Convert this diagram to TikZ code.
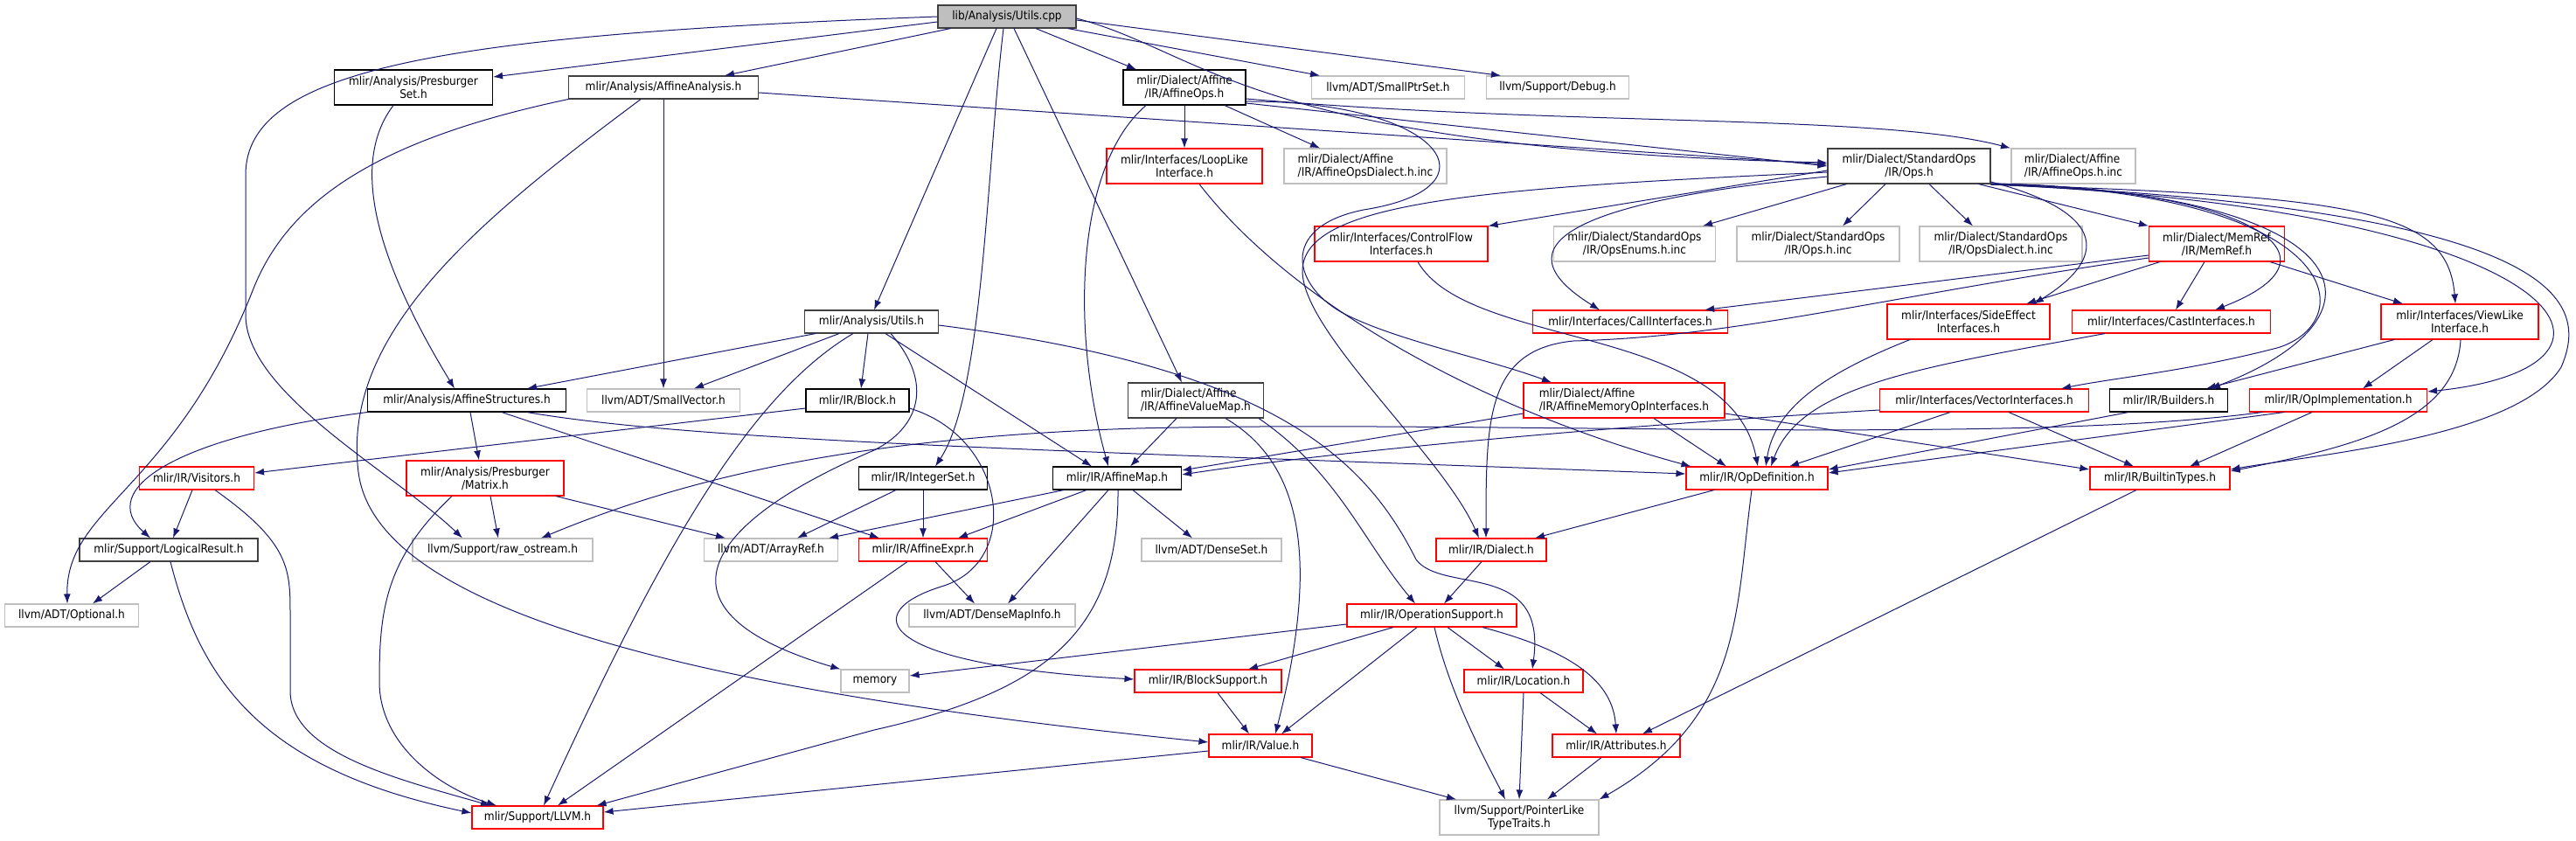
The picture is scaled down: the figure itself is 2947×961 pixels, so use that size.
\documentclass[tikz,border=0pt]{standalone}
\usepackage{fontspec}
\setmainfont{DejaVu Sans Condensed}
\usepackage{xcolor}
\usepackage{tikz}
\usetikzlibrary{arrows.meta}

\definecolor{edgeblue}{HTML}{191970}
\definecolor{nodegray}{HTML}{BFBFBF}
\definecolor{nodedark}{HTML}{404040}

\begin{document}
\begin{tikzpicture}[x=1pt, y=-1pt,
	box/.style={draw, rectangle, line width=1.1pt, fill=white, inner sep=2pt, minimum height=26pt, align=center, font=\fontsize{13.5}{15}\selectfont},
	twoline/.style={minimum height=40pt},
	rootbox/.style={box, draw=nodedark, fill=nodegray},
	blackbox/.style={box, draw=black},
	darkbox/.style={box, draw=nodedark},
	redbox/.style={box, draw=red},
	graybox/.style={box, draw=nodegray},
	dep/.style={draw=edgeblue, line width=1pt, -{Latex[length=11pt, width=8pt]}}]
	\useasboundingbox (0,0) rectangle (2947,961);
	% Nodes, rank by rank:
	\node[rootbox, minimum width=158] (cpp) at (1152,19) {lib/Analysis/Utils.cpp};
	\node[blackbox, twoline, minimum width=181] (pset) at (473,100) {mlir/Analysis/Presburger\\Set.h};
	\node[darkbox, minimum width=217] (aana) at (759,100) {mlir/Analysis/AffineAnalysis.h};
	\node[blackbox, twoline, minimum width=140] (aops) at (1355,100) {mlir/Dialect/Affine\\/IR/AffineOps.h};
	\node[graybox, minimum width=175] (sptr) at (1588,100) {llvm/ADT/SmallPtrSet.h};
	\node[graybox, minimum width=163] (dbg) at (1782,100) {llvm/Support/Debug.h};
	\node[redbox, twoline, minimum width=178] (loop) at (1355,190) {mlir/Interfaces/LoopLike\\Interface.h};
	\node[graybox, twoline, minimum width=186, align=left] (aopsdi) at (1562,190) {mlir/Dialect/Affine\\/IR/AffineOpsDialect.h.inc};
	\node[darkbox, twoline, minimum width=186] (stdops) at (2184,190) {mlir/Dialect/StandardOps\\/IR/Ops.h};
	\node[graybox, twoline, minimum width=142, align=left] (aopsinc) at (2372,190) {mlir/Dialect/Affine\\/IR/AffineOps.h.inc};
	\node[redbox, twoline, minimum width=198] (cflow) at (1603,279) {mlir/Interfaces/ControlFlow\\Interfaces.h};
	\node[graybox, twoline, minimum width=185] (enums) at (1870,279) {mlir/Dialect/StandardOps\\/IR/OpsEnums.h.inc};
	\node[graybox, twoline, minimum width=186] (opsinc) at (2080,279) {mlir/Dialect/StandardOps\\/IR/Ops.h.inc};
	\node[graybox, twoline, minimum width=186] (opsdi) at (2289,279) {mlir/Dialect/StandardOps\\/IR/OpsDialect.h.inc};
	\node[redbox, twoline, minimum width=155] (memref) at (2536,279) {mlir/Dialect/MemRef\\/IR/MemRef.h};
	\node[darkbox, minimum width=153] (autils) at (997,368) {mlir/Analysis/Utils.h};
	\node[redbox, minimum width=223] (call) at (1865,368) {mlir/Interfaces/CallInterfaces.h};
	\node[redbox, twoline, minimum width=186] (side) at (2252,368) {mlir/Interfaces/SideEffect\\Interfaces.h};
	\node[redbox, minimum width=227] (cast) at (2484,368) {mlir/Interfaces/CastInterfaces.h};
	\node[redbox, twoline, minimum width=180] (view) at (2814,368) {mlir/Interfaces/ViewLike\\Interface.h};
	\node[blackbox, minimum width=227] (astruct) at (534,458) {mlir/Analysis/AffineStructures.h};
	\node[graybox, minimum width=175] (svec) at (759,458) {llvm/ADT/SmallVector.h};
	\node[blackbox, minimum width=118] (block) at (981,458) {mlir/IR/Block.h};
	\node[darkbox, twoline, minimum width=155, align=left] (avmap) at (1368,458) {mlir/Dialect/Affine\\/IR/AffineValueMap.h};
	\node[redbox, twoline, minimum width=230, align=left] (amem) at (1858,458) {mlir/Dialect/Affine\\/IR/AffineMemoryOpInterfaces.h};
	\node[redbox, minimum width=239] (vec) at (2270,458) {mlir/Interfaces/VectorInterfaces.h};
	\node[blackbox, minimum width=135] (build) at (2481,458) {mlir/IR/Builders.h};
	\node[redbox, minimum width=203] (opimpl) at (2675,458) {mlir/IR/OpImplementation.h};
	\node[redbox, minimum width=131] (visit) at (225,547) {mlir/IR/Visitors.h};
	\node[redbox, twoline, minimum width=180] (matrix) at (555,547) {mlir/Analysis/Presburger\\/Matrix.h};
	\node[blackbox, minimum width=147] (iset) at (1056,547) {mlir/IR/IntegerSet.h};
	\node[blackbox, minimum width=147] (amap) at (1278,547) {mlir/IR/AffineMap.h};
	\node[redbox, minimum width=162] (opdef) at (2010,547) {mlir/IR/OpDefinition.h};
	\node[redbox, minimum width=160] (btypes) at (2471,547) {mlir/IR/BuiltinTypes.h};
	\node[darkbox, minimum width=204] (lres) at (193,629) {mlir/Support/LogicalResult.h};
	\node[graybox, minimum width=206] (rawos) at (575,629) {llvm/Support/raw\_ostream.h};
	\node[graybox, minimum width=153] (aref) at (882,629) {llvm/ADT/ArrayRef.h};
	\node[redbox, minimum width=147] (aexpr) at (1056,629) {mlir/IR/AffineExpr.h};
	\node[graybox, minimum width=160] (dset) at (1386,629) {llvm/ADT/DenseSet.h};
	\node[redbox, minimum width=126] (dialect) at (1706,629) {mlir/IR/Dialect.h};
	\node[graybox, minimum width=153] (optional) at (82,704) {llvm/ADT/Optional.h};
	\node[graybox, minimum width=190] (dmi) at (1135,704) {llvm/ADT/DenseMapInfo.h};
	\node[redbox, minimum width=194] (opsup) at (1638,704) {mlir/IR/OperationSupport.h};
	\node[graybox, minimum width=78] (memory) at (1001,779) {memory};
	\node[redbox, minimum width=168] (bsup) at (1382,779) {mlir/IR/BlockSupport.h};
	\node[redbox, minimum width=136] (loc) at (1743,779) {mlir/IR/Location.h};
	\node[redbox, minimum width=118] (value) at (1442,853) {mlir/IR/Value.h};
	\node[redbox, minimum width=146] (attr) at (1849,853) {mlir/IR/Attributes.h};
	\node[redbox, minimum width=150] (llvm) at (615,935) {mlir/Support/LLVM.h};
	\node[graybox, twoline, minimum width=182] (ptr) at (1738,935) {llvm/Support/PointerLike\\TypeTraits.h};
	% Includes of lib/Analysis/Utils.cpp
	\draw[dep] ([yshift=-6]cpp.west) -- ([yshift=12]pset.east);
	\draw[dep] ([xshift=15]cpp.south west) -- ([xshift=70]aana.north);
	\draw[dep] ([xshift=33]cpp.south) -- ([xshift=-55]aops.north);
	\draw[dep] ([xshift=-10]cpp.south east) -- ([xshift=-78]sptr.north);
	\draw[dep] ([yshift=-4]cpp.east) -- ([xshift=-65]dbg.north);
	\draw[dep] ([xshift=-12]cpp.south) -- ([xshift=3]autils.north);
	\draw[dep] ([xshift=-4]cpp.south) .. controls (1128,200) and (1125,450) .. ([xshift=14]iset.north);
	\draw[dep] ([xshift=8]cpp.south) -- ([xshift=-16]avmap.north);
	\draw[dep] ([yshift=-2]cpp.east) .. controls (1380,60) and (1430,170) .. ([yshift=4]stdops.west);
	\draw[dep] (cpp.west) .. controls (500,40) and (281,80) .. (281,200) -- (281,360) .. controls (281,450) and (450,540) .. ([xshift=-46]rawos.north);
	% Presburger set, affine analysis
	\draw[dep] ([xshift=-23]pset.south) .. controls (405,180) and (420,280) .. ([xshift=-14]astruct.north);
	\draw[dep] (aana.south) -- (svec.north);
	\draw[dep] (aana.south west) .. controls (430,160) and (330,230) .. (290,330) .. controls (200,560) and (75,580) .. ([xshift=-5]optional.north);
	\draw[dep] ([xshift=-26]aana.south) .. controls (550,250) and (390,380) .. (410,540) .. controls (430,700) and (800,790) .. ([yshift=4]value.west);
	\draw[dep] ([yshift=-6]aana.east) -- ([yshift=2]stdops.west);
	% Affine ops
	\draw[dep] (aops.south) -- (loop.north);
	\draw[dep] ([xshift=46]aops.south) -- ([xshift=-52]aopsdi.north);
	\draw[dep] ([yshift=-18]aops.east) -- (stdops.west);
	\draw[dep] ([yshift=-13]aops.east) .. controls (1800,145) and (2150,130) .. ([xshift=-72]aopsinc.north);
	\draw[dep] ([xshift=-44]aops.south) .. controls (1230,190) and (1225,380) .. ([xshift=-10]amap.north);
	\draw[dep] ([yshift=-16]aops.east) .. controls (1650,115) and (1720,215) .. (1560,240) .. controls (1460,260) and (1480,330) .. (1540,360) .. controls (1600,390) and (1700,410) .. ([xshift=-83]amem.north);
	\draw[dep] ([xshift=17]loop.south) .. controls (1480,350) and (1700,470) .. ([xshift=6]opdef.north west);
	\draw[dep] ([xshift=19]cflow.south) .. controls (1680,400) and (1980,370) .. ([xshift=1]opdef.north);
	% Standard ops
	\draw[dep] ([yshift=-5]stdops.west) -- (cflow.north east);
	\draw[dep] ([xshift=22]stdops.south west) -- ([xshift=78]enums.north);
	\draw[dep] ([xshift=-27]stdops.south) -- ([xshift=28]opsinc.north);
	\draw[dep] ([xshift=23]stdops.south) -- ([xshift=-32]opsdi.north);
	\draw[dep] ([xshift=-14]stdops.south east) -- (memref.north west);
	\draw[dep] ([yshift=-18]stdops.east) .. controls (2400,240) and (2420,290) .. ([xshift=75]side.north);
	\draw[dep] ([yshift=-20]stdops.east) .. controls (2560,215) and (2700,290) .. ([xshift=50]cast.north);
	\draw[dep] ([yshift=-20]stdops.east) .. controls (2690,220) and (2700,370) .. (2605,398) .. controls (2500,425) and (2420,432) .. ([xshift=88]vec.north);
	\draw[dep] ([yshift=-20]stdops.east) .. controls (2700,220) and (2750,360) .. ([xshift=48]build.north);
	\draw[dep] ([yshift=-21]stdops.east) .. controls (2700,225) and (2800,240) .. ([xshift=-5]view.north);
	\draw[dep] ([yshift=-21]stdops.east) .. controls (2950,240) and (3050,420) .. ([yshift=10]opimpl.east);
	\draw[dep] ([yshift=-21]stdops.east) .. controls (2950,240) and (2960,350) .. (2930,420) .. controls (2880,500) and (2650,520) .. ([yshift=10]btypes.east);
	\draw[dep] ([yshift=-12]stdops.west) .. controls (1800,230) and (1710,280) .. ([xshift=-35]call.north);
	\draw[dep] ([yshift=-7]stdops.west) .. controls (1700,215) and (1490,230) .. (1490,310) .. controls (1490,380) and (1650,520) .. ([xshift=-14]dialect.north);
	% MemRef
	\draw[dep] ([xshift=-65]memref.south) -- ([xshift=66]side.north);
	\draw[dep] ([xshift=-14]memref.south) -- ([xshift=5]cast.north);
	\draw[dep] ([xshift=61]memref.south) -- ([xshift=-65]view.north);
	\draw[dep] ([yshift=-13]memref.west) -- ([xshift=-27]call.north east);
	\draw[dep] ([yshift=-16]memref.west) .. controls (2150,340) and (1990,385) .. (1800,390) .. controls (1700,400) and (1700,480) .. ([xshift=-6]dialect.north);
	% Analysis utils
	\draw[dep] ([xshift=-64]autils.south) -- ([xshift=69]astruct.north);
	\draw[dep] ([xshift=-37]autils.south) -- ([xshift=35]svec.north);
	\draw[dep] ([xshift=-4]autils.south) -- ([xshift=4]block.north);
	\draw[dep] ([xshift=16]autils.south) -- ([xshift=-29]amap.north);
	\draw[dep] ([xshift=-21]autils.south) .. controls (860,450) and (760,620) .. ([xshift=7]llvm.north);
	\draw[dep] ([xshift=22]autils.south) .. controls (1070,440) and (1050,490) .. (1000,515) .. controls (800,600) and (740,700) .. (memory.north west);
	\draw[dep] ([yshift=-4]autils.east) .. controls (1450,420) and (1560,520) .. (1620,640) .. controls (1650,680) and (1770,640) .. ([xshift=10]loc.north);
	% Interfaces
	\draw[dep] ([xshift=-67]side.south) .. controls (2080,430) and (2030,470) .. ([xshift=10]opdef.north);
	\draw[dep] ([xshift=-76]cast.south) .. controls (2200,420) and (2060,440) .. ([xshift=16]opdef.north);
	\draw[dep] ([xshift=-75]view.south) -- ([xshift=43]build.north);
	\draw[dep] ([xshift=-31]view.south) -- ([xshift=28]opimpl.north);
	\draw[dep] ([xshift=1]view.south) .. controls (2810,480) and (2700,510) .. ([yshift=8]btypes.east);
	% Affine structures, block, value map
	\draw[dep] (astruct.south west) .. controls (200,500) and (110,560) .. ([xshift=-21]lres.north);
	\draw[dep] ([xshift=4]astruct.south) -- ([xshift=-7]matrix.north);
	\draw[dep] ([xshift=40]astruct.south) -- ([xshift=24]aexpr.north west);
	\draw[dep] ([xshift=69]astruct.south) .. controls (800,505) and (1200,515) .. ([yshift=5]opdef.west);
	\draw[dep] ([yshift=-9]block.west) -- ([yshift=6]visit.east);
	\draw[dep] ([yshift=-9]block.east) .. controls (1150,500) and (1170,640) .. (1080,670) .. controls (980,700) and (1000,760) .. ([yshift=2]bsup.west);
	\draw[dep] ([xshift=-22]avmap.south) -- ([xshift=15]amap.north);
	\draw[dep] ([xshift=34]avmap.south) .. controls (1490,530) and (1510,640) .. ([xshift=17]value.north);
	\draw[dep] ([xshift=72]avmap.south) .. controls (1530,540) and (1560,620) .. ([xshift=-19]opsup.north);
	\draw[dep] ([yshift=-15]amem.west) -- ([yshift=9]amap.east);
	\draw[dep] ([xshift=34]amem.south) -- ([xshift=-35]opdef.north);
	\draw[dep] ([yshift=-15]amem.east) -- ([yshift=10]btypes.west);
	\draw[dep] ([yshift=-11]vec.west) .. controls (1800,490) and (1500,520) .. ([yshift=4]amap.east);
	\draw[dep] ([xshift=-39]vec.south) -- ([xshift=37]opdef.north);
	\draw[dep] ([xshift=28]vec.south) -- ([xshift=-30]btypes.north);
	\draw[dep] ([xshift=-46]build.south) -- ([yshift=10]opdef.east);
	\draw[dep] ([xshift=-62]opimpl.south) -- ([yshift=6]opdef.east);
	\draw[dep] ([xshift=-30]opimpl.south) -- ([xshift=34]btypes.north);
	\draw[dep] ([xshift=-87]opimpl.south) .. controls (2300,510) and (1700,480) .. (1300,490) .. controls (1000,500) and (800,540) .. ([xshift=44]rawos.north);
	% Lower ranks
	\draw[dep] ([xshift=-5]visit.south) -- ([xshift=5]lres.north);
	\draw[dep] ([xshift=21]visit.south) .. controls (330,620) and (332,650) .. (332,700) -- (332,790) .. controls (332,860) and (450,890) .. ([xshift=-54]llvm.north);
	\draw[dep] ([xshift=6]matrix.south) -- ([xshift=-5]rawos.north);
	\draw[dep] ([xshift=81]matrix.south) -- ([xshift=-52]aref.north);
	\draw[dep] ([xshift=-38]matrix.south) .. controls (440,640) and (434,700) .. (434,780) .. controls (434,850) and (500,900) .. ([xshift=-47]llvm.north);
	\draw[dep] ([xshift=-21]lres.south) -- ([xshift=24]optional.north);
	\draw[dep] ([xshift=2]lres.south) .. controls (230,780) and (300,880) .. ([yshift=5]llvm.west);
	\draw[dep] ([xshift=-31]iset.south) -- ([xshift=30]aref.north);
	\draw[dep] (iset.south) -- (aexpr.north);
	\draw[dep] ([xshift=-61]amap.south) -- ([xshift=66]aref.north);
	\draw[dep] ([xshift=-35]amap.south) -- ([xshift=40]aexpr.north);
	\draw[dep] ([xshift=18]amap.south) -- ([xshift=-22]dset.north);
	\draw[dep] ([xshift=-10]amap.south) -- ([xshift=18]dmi.north);
	\draw[dep] ([xshift=1]amap.south) .. controls (1280,720) and (1200,790) .. (1000,835) -- ([xshift=-8]llvm.north east);
	\draw[dep] ([xshift=14]aexpr.south) -- ([xshift=-20]dmi.north);
	\draw[dep] ([xshift=-18]aexpr.south) -- ([xshift=23]llvm.north);
	\draw[dep] ([xshift=-49]opdef.south) -- ([xshift=50]dialect.north);
	\draw[dep] ([xshift=-6]opdef.south) .. controls (1985,700) and (1995,820) .. (ptr.north east);
	\draw[dep] ([xshift=-11]dialect.south) -- ([xshift=14]opsup.north);
	\draw[dep] ([xshift=-27]btypes.south) -- ([xshift=30]attr.north);
	\draw[dep] ([yshift=-10]opsup.west) -- ([yshift=6]memory.east);
	\draw[dep] ([xshift=-44]opsup.south) -- ([xshift=46]bsup.north);
	\draw[dep] ([xshift=-17]opsup.south) -- ([xshift=24]value.north);
	\draw[dep] ([xshift=18]opsup.south) -- ([xshift=-22]loc.north);
	\draw[dep] ([xshift=58]opsup.south) .. controls (1800,745) and (1845,780) .. (attr.north);
	\draw[dep] ([xshift=3]opsup.south) .. controls (1660,800) and (1705,880) .. ([xshift=-16]ptr.north);
	\draw[dep] ([xshift=11]bsup.south) -- ([xshift=-13]value.north);
	\draw[dep] (loc.south) -- (ptr.north);
	\draw[dep] ([xshift=19]loc.south) -- ([xshift=-22]attr.north);
	\draw[dep] ([xshift=-17]attr.south) -- ([xshift=32]ptr.north);
	\draw[dep] ([xshift=46]value.south) -- ([xshift=-72]ptr.north);
	\draw[dep] ([yshift=-6]value.west) -- ([yshift=6]llvm.east);
\end{tikzpicture}
\end{document}
